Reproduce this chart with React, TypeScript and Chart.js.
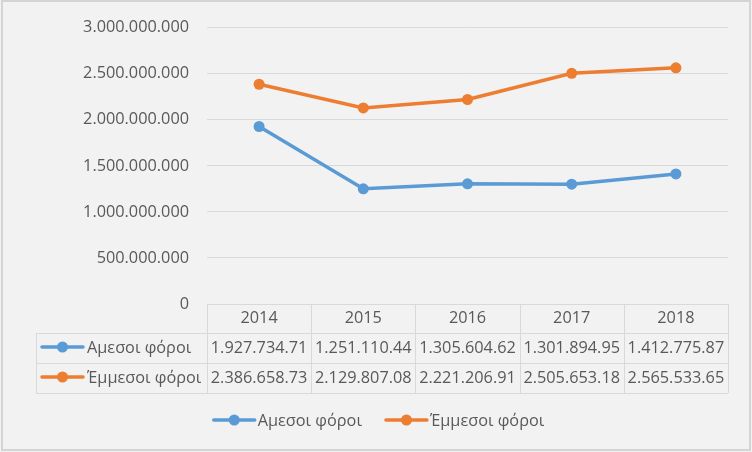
import React, { useEffect, useRef } from "react";
import { Chart, registerables } from "chart.js";

Chart.register(...registerables);

const years = ["2014", "2015", "2016", "2017", "2018"];
const directTaxes = [1927734710, 1251110440, 1305604620, 1301894950, 1412775870];
const indirectTaxes = [2386658730, 2129807080, 2221206910, 2505653180, 2565533650];
const seriesNames = ["Αμεσοι φόροι", "Έμμεσοι φόροι"];
const yTicksMax = 3000000000;
const yTicksStep = 500000000;

const BLUE = "#5b9bd5";
const ORANGE = "#ed7d31";
const TEXT = "#595959";
const GRID = "#d9d9d9";
const FONT_FAMILY = "'Open Sans', sans-serif";
const FONT_SIZE = 16.3;

function fmt(v: number): string {
  const s = Math.round(v).toString();
  return s.replace(/\B(?=(\d{3})+(?!\d))/g, ".");
}

function drawKey(ctx: CanvasRenderingContext2D, x: number, y: number, color: string) {
  ctx.save();
  ctx.strokeStyle = color;
  ctx.lineWidth = 3.5;
  ctx.lineCap = "round";
  ctx.beginPath();
  ctx.moveTo(x, y);
  ctx.lineTo(x + 41, y);
  ctx.stroke();
  ctx.fillStyle = color;
  ctx.beginPath();
  ctx.arc(x + 20.5, y, 5.5, 0, Math.PI * 2);
  ctx.fill();
  ctx.restore();
}

const framePlugin = {
  id: "frame",
  beforeDraw(chart: any) {
    const { ctx, width, height } = chart;
    ctx.save();
    ctx.fillStyle = "#f2f2f2";
    ctx.fillRect(0, 0, width, height);
    ctx.strokeStyle = "#d4d4d4";
    ctx.lineWidth = 2;
    ctx.strokeRect(2, 1, width - 4, height - 3);
    ctx.restore();
  },
  afterDraw(chart: any) {
    const { ctx, chartArea } = chart;
    const xScale = chart.scales.x;
    const left = chartArea.left;
    const right = chartArea.right;
    const top = chartArea.bottom;
    const rowH = [29, 30, 30];
    const rowTop = [top, top + rowH[0], top + rowH[0] + rowH[1]];
    const bottom = rowTop[2] + rowH[2];
    const labelLeft = 36;
    const colW = (right - left) / years.length;

    ctx.save();
    ctx.strokeStyle = GRID;
    ctx.lineWidth = 1;
    ctx.beginPath();
    // horizontal lines
    ctx.moveTo(left, Math.round(top) + 0.5);
    ctx.lineTo(right, Math.round(top) + 0.5);
    for (let i = 1; i <= 3; i++) {
      const y = Math.round(i < 3 ? rowTop[i] : bottom) + 0.5;
      ctx.moveTo(labelLeft, y);
      ctx.lineTo(right, y);
    }
    // vertical lines
    ctx.moveTo(labelLeft + 0.5, rowTop[1]);
    ctx.lineTo(labelLeft + 0.5, bottom);
    for (let i = 0; i <= years.length; i++) {
      const x = Math.round(left + i * colW) + 0.5;
      ctx.moveTo(x, top);
      ctx.lineTo(x, bottom);
    }
    ctx.stroke();

    ctx.font = `${FONT_SIZE}px ${FONT_FAMILY}`;
    ctx.fillStyle = TEXT;
    ctx.textBaseline = "middle";
    ctx.textAlign = "center";
    years.forEach((yr, i) => {
      const cx = xScale.getPixelForValue(i);
      ctx.fillText(yr, cx, rowTop[0] + rowH[0] / 2);
    });

    const rows = [directTaxes, indirectTaxes];
    const colors = [BLUE, ORANGE];
    rows.forEach((vals, r) => {
      const cy = rowTop[r + 1] + rowH[r + 1] / 2;
      vals.forEach((v, i) => {
        let s = fmt(v);
        while (s.length > 1 && ctx.measureText(s).width > colW - 5) s = s.slice(0, -1);
        ctx.textAlign = "center";
        ctx.fillText(s, xScale.getPixelForValue(i), cy);
      });
      drawKey(ctx, 42, cy - 1, colors[r]);
      ctx.textAlign = "left";
      ctx.fillText(seriesNames[r], 87, cy);
    });

    // bottom legend
    const legendY = 420;
    const keyW = 41;
    const gapKeyText = 3;
    const gapItems = 24;
    const widths = seriesNames.map((n) => keyW + gapKeyText + ctx.measureText(n).width);
    const total = widths[0] + widths[1] + gapItems;
    let x = chart.width / 2 - total / 2 + 3;
    seriesNames.forEach((n, i) => {
      drawKey(ctx, x, legendY, colors[i]);
      ctx.textAlign = "left";
      ctx.fillText(n, x + keyW + gapKeyText, legendY + 1);
      x += widths[i] + gapItems;
    });
    ctx.restore();
  },
};

export default function App() {
  const ref = useRef<HTMLCanvasElement | null>(null);
  useEffect(() => {
    document.body.style.margin = "0";
    if (!ref.current) return;
    const chart = new Chart(ref.current, {
      type: "line",
      data: {
        labels: years,
        datasets: [
          {
            label: seriesNames[0],
            data: directTaxes,
            borderColor: BLUE,
            backgroundColor: BLUE,
            pointBackgroundColor: BLUE,
            pointBorderColor: BLUE,
            borderWidth: 3.5,
            pointRadius: 5.5,
            pointBorderWidth: 0,
            tension: 0,
          },
          {
            label: seriesNames[1],
            data: indirectTaxes,
            borderColor: ORANGE,
            backgroundColor: ORANGE,
            pointBackgroundColor: ORANGE,
            pointBorderColor: ORANGE,
            borderWidth: 3.5,
            pointRadius: 5.5,
            pointBorderWidth: 0,
            tension: 0,
          },
        ],
      },
      options: {
        responsive: false,
        animation: false,
        layout: { padding: { left: 0, top: 24, right: 24, bottom: 148 } },
        plugins: { legend: { display: false }, tooltip: { enabled: false } },
        scales: {
          x: { type: "category", display: false, offset: true },
          y: {
            min: 0,
            max: yTicksMax,
            border: { display: false },
            grid: { color: GRID, lineWidth: 1, drawTicks: false },
            ticks: {
              stepSize: yTicksStep,
              padding: 18,
              color: TEXT,
              font: { family: FONT_FAMILY, size: FONT_SIZE },
              callback: (v: any) => fmt(Number(v)),
            },
            afterFit: (s: any) => {
              s.width = 207;
            },
          },
        },
      },
      plugins: [framePlugin],
    });
    return () => chart.destroy();
  }, []);
  return (
    <div style={{ width: 752, height: 452 }}>
      <canvas ref={ref} width={752} height={452} style={{ display: "block" }} />
    </div>
  );
}
